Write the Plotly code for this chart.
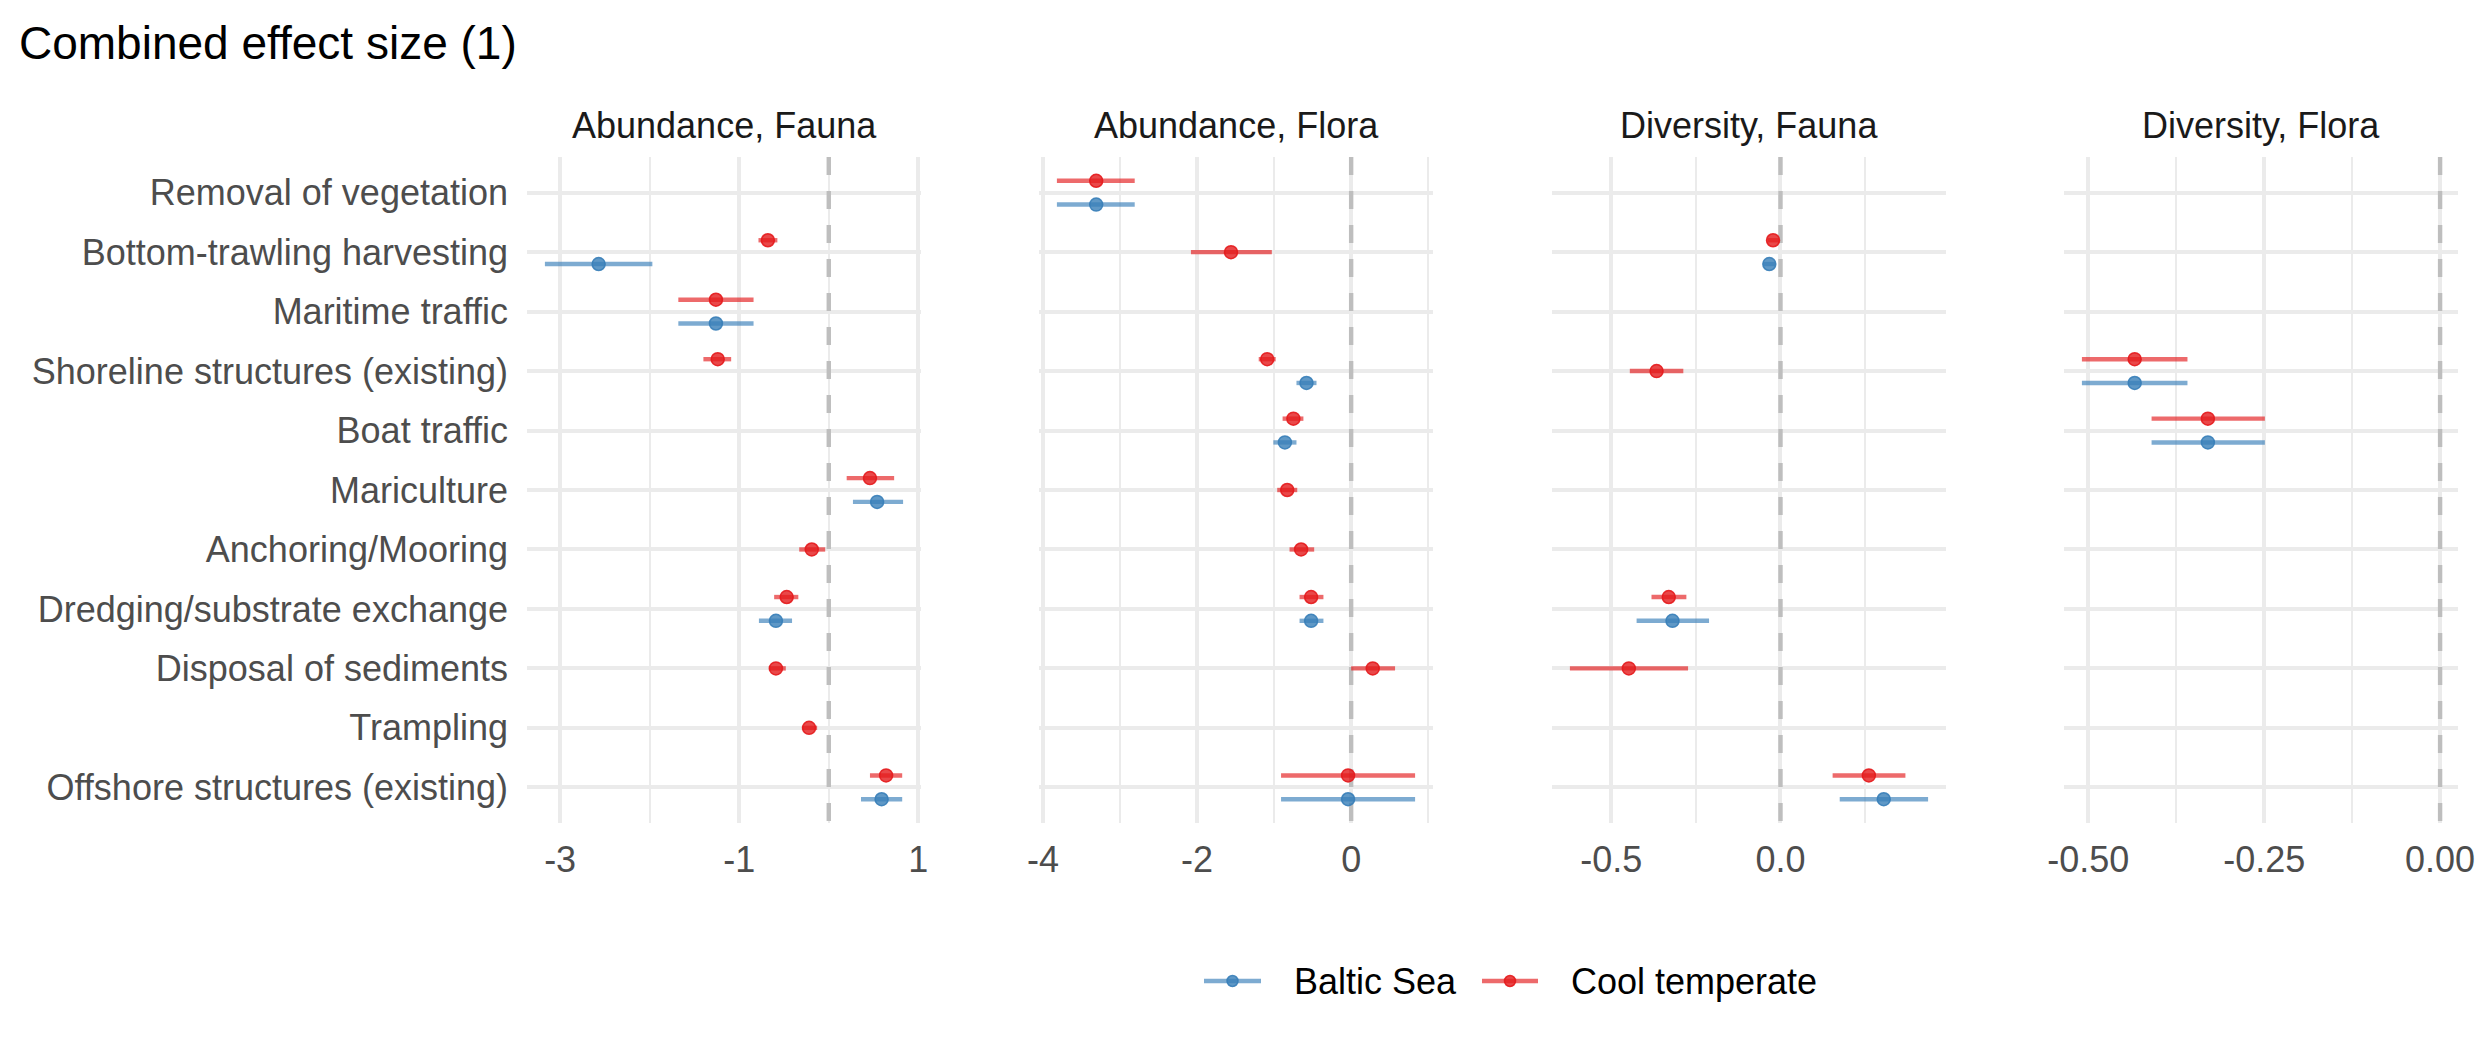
import math
import plotly.graph_objects as go
from plotly.subplots import make_subplots

W, H = 2480, 1062

categories = [
    "Removal of vegetation", "Bottom-trawling harvesting", "Maritime traffic",
    "Shoreline structures (existing)", "Boat traffic", "Mariculture",
    "Anchoring/Mooring", "Dredging/substrate exchange", "Disposal of sediments",
    "Trampling", "Offshore structures (existing)",
]
facets = ["Abundance, Fauna", "Abundance, Flora", "Diversity, Fauna", "Diversity, Flora"]
series_names = ["Baltic Sea", "Cool temperate"]
NA = float("nan")  # row exists (counts for dodging) but has no estimate

# ---- Abundance, Fauna ----
af_baltic_est = [None, -2.57, -1.26, NA, None, 0.54, None, -0.59, None, None, 0.59]
af_baltic_lo = [None, -3.17, -1.68, NA, None, 0.27, None, -0.78, None, None, 0.36]
af_baltic_hi = [None, -1.97, -0.84, NA, None, 0.83, None, -0.41, None, None, 0.82]
af_cool_est = [None, -0.68, -1.26, -1.24, None, 0.46, -0.19, -0.47, -0.59, -0.22, 0.64]
af_cool_lo = [None, -0.785, -1.68, -1.40, None, 0.20, -0.33, -0.61, -0.67, -0.30, 0.46]
af_cool_hi = [None, -0.574, -0.84, -1.09, None, 0.73, -0.04, -0.34, -0.48, -0.13, 0.82]

# ---- Abundance, Flora ----
afl_baltic_est = [-3.31, None, None, -0.58, -0.86, None, None, -0.52, None, None, -0.04]
afl_baltic_lo = [-3.82, None, None, -0.71, -1.01, None, None, -0.67, None, None, -0.91]
afl_baltic_hi = [-2.81, None, None, -0.45, -0.71, None, None, -0.36, None, None, 0.83]
afl_cool_est = [-3.31, -1.56, None, -1.09, -0.75, -0.83, -0.65, -0.52, 0.28, None, -0.04]
afl_cool_lo = [-3.82, -2.08, None, -1.20, -0.89, -0.96, -0.80, -0.67, 0.0, None, -0.91]
afl_cool_hi = [-2.81, -1.03, None, -0.98, -0.62, -0.70, -0.48, -0.36, 0.57, None, 0.83]

# ---- Diversity, Fauna ----
df_baltic_est = [None, -0.033, None, None, None, None, None, -0.319, None, None, 0.305]
df_baltic_lo = [None, -0.051, None, None, None, None, None, -0.425, None, None, 0.175]
df_baltic_hi = [None, -0.016, None, None, None, None, None, -0.211, None, None, 0.436]
df_cool_est = [None, -0.022, None, -0.366, None, None, None, -0.330, -0.448, None, 0.261]
df_cool_lo = [None, -0.038, None, -0.445, None, None, None, -0.381, -0.622, None, 0.154]
df_cool_hi = [None, -0.005, None, -0.287, None, None, None, -0.278, -0.273, None, 0.369]

# ---- Diversity, Flora ----
dfl_baltic_est = [None, None, None, -0.434, -0.330, None, None, None, None, None, None]
dfl_baltic_lo = [None, None, None, -0.509, -0.410, None, None, None, None, None, None]
dfl_baltic_hi = [None, None, None, -0.359, -0.249, None, None, None, None, None, None]
dfl_cool_est = [None, None, None, -0.434, -0.330, None, None, None, None, None, None]
dfl_cool_lo = [None, None, None, -0.509, -0.410, None, None, None, None, None, None]
dfl_cool_hi = [None, None, None, -0.359, -0.249, None, None, None, None, None, None]

# x-axis breaks per facet
major_breaks = [[-3, -1, 1], [-4, -2, 0], [-0.5, 0.0], [-0.5, -0.25, 0.0]]
major_labels = [["-3", "-1", "1"], ["-4", "-2", "0"], ["-0.5", "0.0"], ["-0.50", "-0.25", "0.00"]]
minor_breaks = [[-2, 0], [-3, -1, 1], [-0.25, 0.25], [-0.375, -0.125]]
ref_line = 0

panel_data = [
    ((af_baltic_est, af_baltic_lo, af_baltic_hi), (af_cool_est, af_cool_lo, af_cool_hi)),
    ((afl_baltic_est, afl_baltic_lo, afl_baltic_hi), (afl_cool_est, afl_cool_lo, afl_cool_hi)),
    ((df_baltic_est, df_baltic_lo, df_baltic_hi), (df_cool_est, df_cool_lo, df_cool_hi)),
    ((dfl_baltic_est, dfl_baltic_lo, dfl_baltic_hi), (dfl_cool_est, dfl_cool_lo, dfl_cool_hi)),
]

# styles
FONT = "Liberation Sans, Arial, sans-serif"
COLORS = {"Baltic Sea": (55, 126, 184), "Cool temperate": (228, 26, 28)}
def rgba(c, a):
    return f"rgba({c[0]},{c[1]},{c[2]},{a})"
DODGE = 0.2
GRID = "#EBEBEB"
LINE_ALPHA = 0.65

fig = make_subplots(rows=1, cols=4, shared_yaxes=True, horizontal_spacing=0.05)

panel_left = [527, 1039, 1552, 2064]
panel_w = 394
y_top, y_bot = 157, 823
y_range = [len(categories) - 0.4, -0.6]

def present(v):
    return v is not None

for p, (baltic, cool) in enumerate(panel_data):
    col = p + 1
    # dashed reference line (drawn first so it sits under the points)
    fig.add_trace(go.Scatter(
        x=[ref_line, ref_line], y=[y_range[1], y_range[0]], mode="lines",
        line=dict(color="#BEBEBE", width=4.4, dash="18px,16px"),
        showlegend=False, hoverinfo="skip",
    ), row=1, col=col)
    for s_idx, (name, (est, lo, hi)) in enumerate(zip(series_names, (baltic, cool))):
        other = cool if s_idx == 0 else baltic
        xs, ys, ep, em = [], [], [], []
        for i in range(len(categories)):
            v = est[i]
            if v is None or (isinstance(v, float) and math.isnan(v)):
                continue
            both = present(other[0][i])
            off = (DODGE if s_idx == 0 else -DODGE) if both else 0.0
            xs.append(v)
            ys.append(i + off)
            ep.append(hi[i] - v)
            em.append(v - lo[i])
        c = COLORS[name]
        fig.add_trace(go.Scatter(
            x=xs, y=ys, mode="markers", name=name, showlegend=False,
            marker=dict(size=13, color=rgba(c, 0.8), line=dict(width=1.5, color=rgba(c, 0.9))),
            error_x=dict(type="data", symmetric=False, array=ep, arrayminus=em,
                         color=rgba(c, LINE_ALPHA), thickness=4.4, width=0),
            hoverinfo="x+y",
        ), row=1, col=col)

    # x range like ggplot: data + reference line, expanded 5%
    vals = [v for arr in (baltic[1], baltic[2], cool[1], cool[2]) for v in arr
            if v is not None and not math.isnan(v)] + [ref_line]
    mn, mx = min(vals), max(vals)
    pad = 0.05 * (mx - mn)
    ax = "xaxis" if p == 0 else f"xaxis{col}"
    fig.layout[ax].update(
        domain=[panel_left[p] / W, (panel_left[p] + panel_w) / W],
        range=[mn - pad, mx + pad],
        tickmode="array", tickvals=major_breaks[p], ticktext=major_labels[p],
        showgrid=True, gridcolor=GRID, gridwidth=4.4, zeroline=False, showline=False,
        ticks="", ticklabelstandoff=12,
        tickfont=dict(family=FONT, size=36, color="#4D4D4D"),
        minor=dict(tickvals=minor_breaks[p], showgrid=True, gridcolor=GRID, gridwidth=2.2, ticks=""),
        automargin=False, fixedrange=True,
    )
    yax = "yaxis" if p == 0 else f"yaxis{col}"
    fig.layout[yax].update(
        domain=[1 - y_bot / H, 1 - y_top / H],
        range=y_range,
        tickmode="array", tickvals=list(range(len(categories))),
        ticktext=categories if p == 0 else [""] * len(categories),
        showticklabels=(p == 0),
        showgrid=True, gridcolor=GRID, gridwidth=4.4, zeroline=False, showline=False,
        ticks="", ticklabelstandoff=18,
        tickfont=dict(family=FONT, size=36, color="#4D4D4D"),
        automargin=False, fixedrange=True,
    )
    # strip title
    fig.add_annotation(text=facets[p], xref="paper", yref="paper",
                       x=(panel_left[p] + panel_w / 2) / W, y=1 - 125 / H,
                       xanchor="center", yanchor="middle", showarrow=False,
                       font=dict(family=FONT, size=36, color="#1A1A1A"))

# legend drawn by hand (ggplot-style spacing)
legend_y = 1 - 981 / H
legend_keys = {"Baltic Sea": (1204, 1261, 1292), "Cool temperate": (1482, 1538, 1569)}
for name in series_names:
    c = COLORS[name]
    k0, k1, tx = legend_keys[name]
    fig.add_shape(type="line", xref="paper", yref="paper", x0=k0 / W, x1=k1 / W,
                  y0=legend_y, y1=legend_y, line=dict(color=rgba(c, LINE_ALPHA), width=4.4))
    cx = (k0 + k1) / 2 / W
    fig.add_shape(type="circle", xref="paper", yref="paper", xsizemode="pixel", ysizemode="pixel",
                  xanchor=cx, yanchor=legend_y, x0=-5.5, x1=5.5, y0=-5.5, y1=5.5,
                  fillcolor=rgba(c, 0.8), line=dict(color=rgba(c, 0.9), width=1.5))
    fig.add_annotation(text=name, xref="paper", yref="paper", x=tx / W, y=legend_y,
                       xanchor="left", yanchor="middle", showarrow=False,
                       font=dict(family=FONT, size=36, color="black"))

fig.update_layout(
    width=W, height=H,
    margin=dict(l=0, r=0, t=0, b=0),
    paper_bgcolor="white", plot_bgcolor="white",
    title=dict(text="Combined effect size (1)", x=19 / W, xref="container", xanchor="left",
               y=1 - 43 / H, yref="container", yanchor="middle",
               font=dict(family=FONT, size=46, color="black")),
    showlegend=False,
)

fig.write_html("out.html")
